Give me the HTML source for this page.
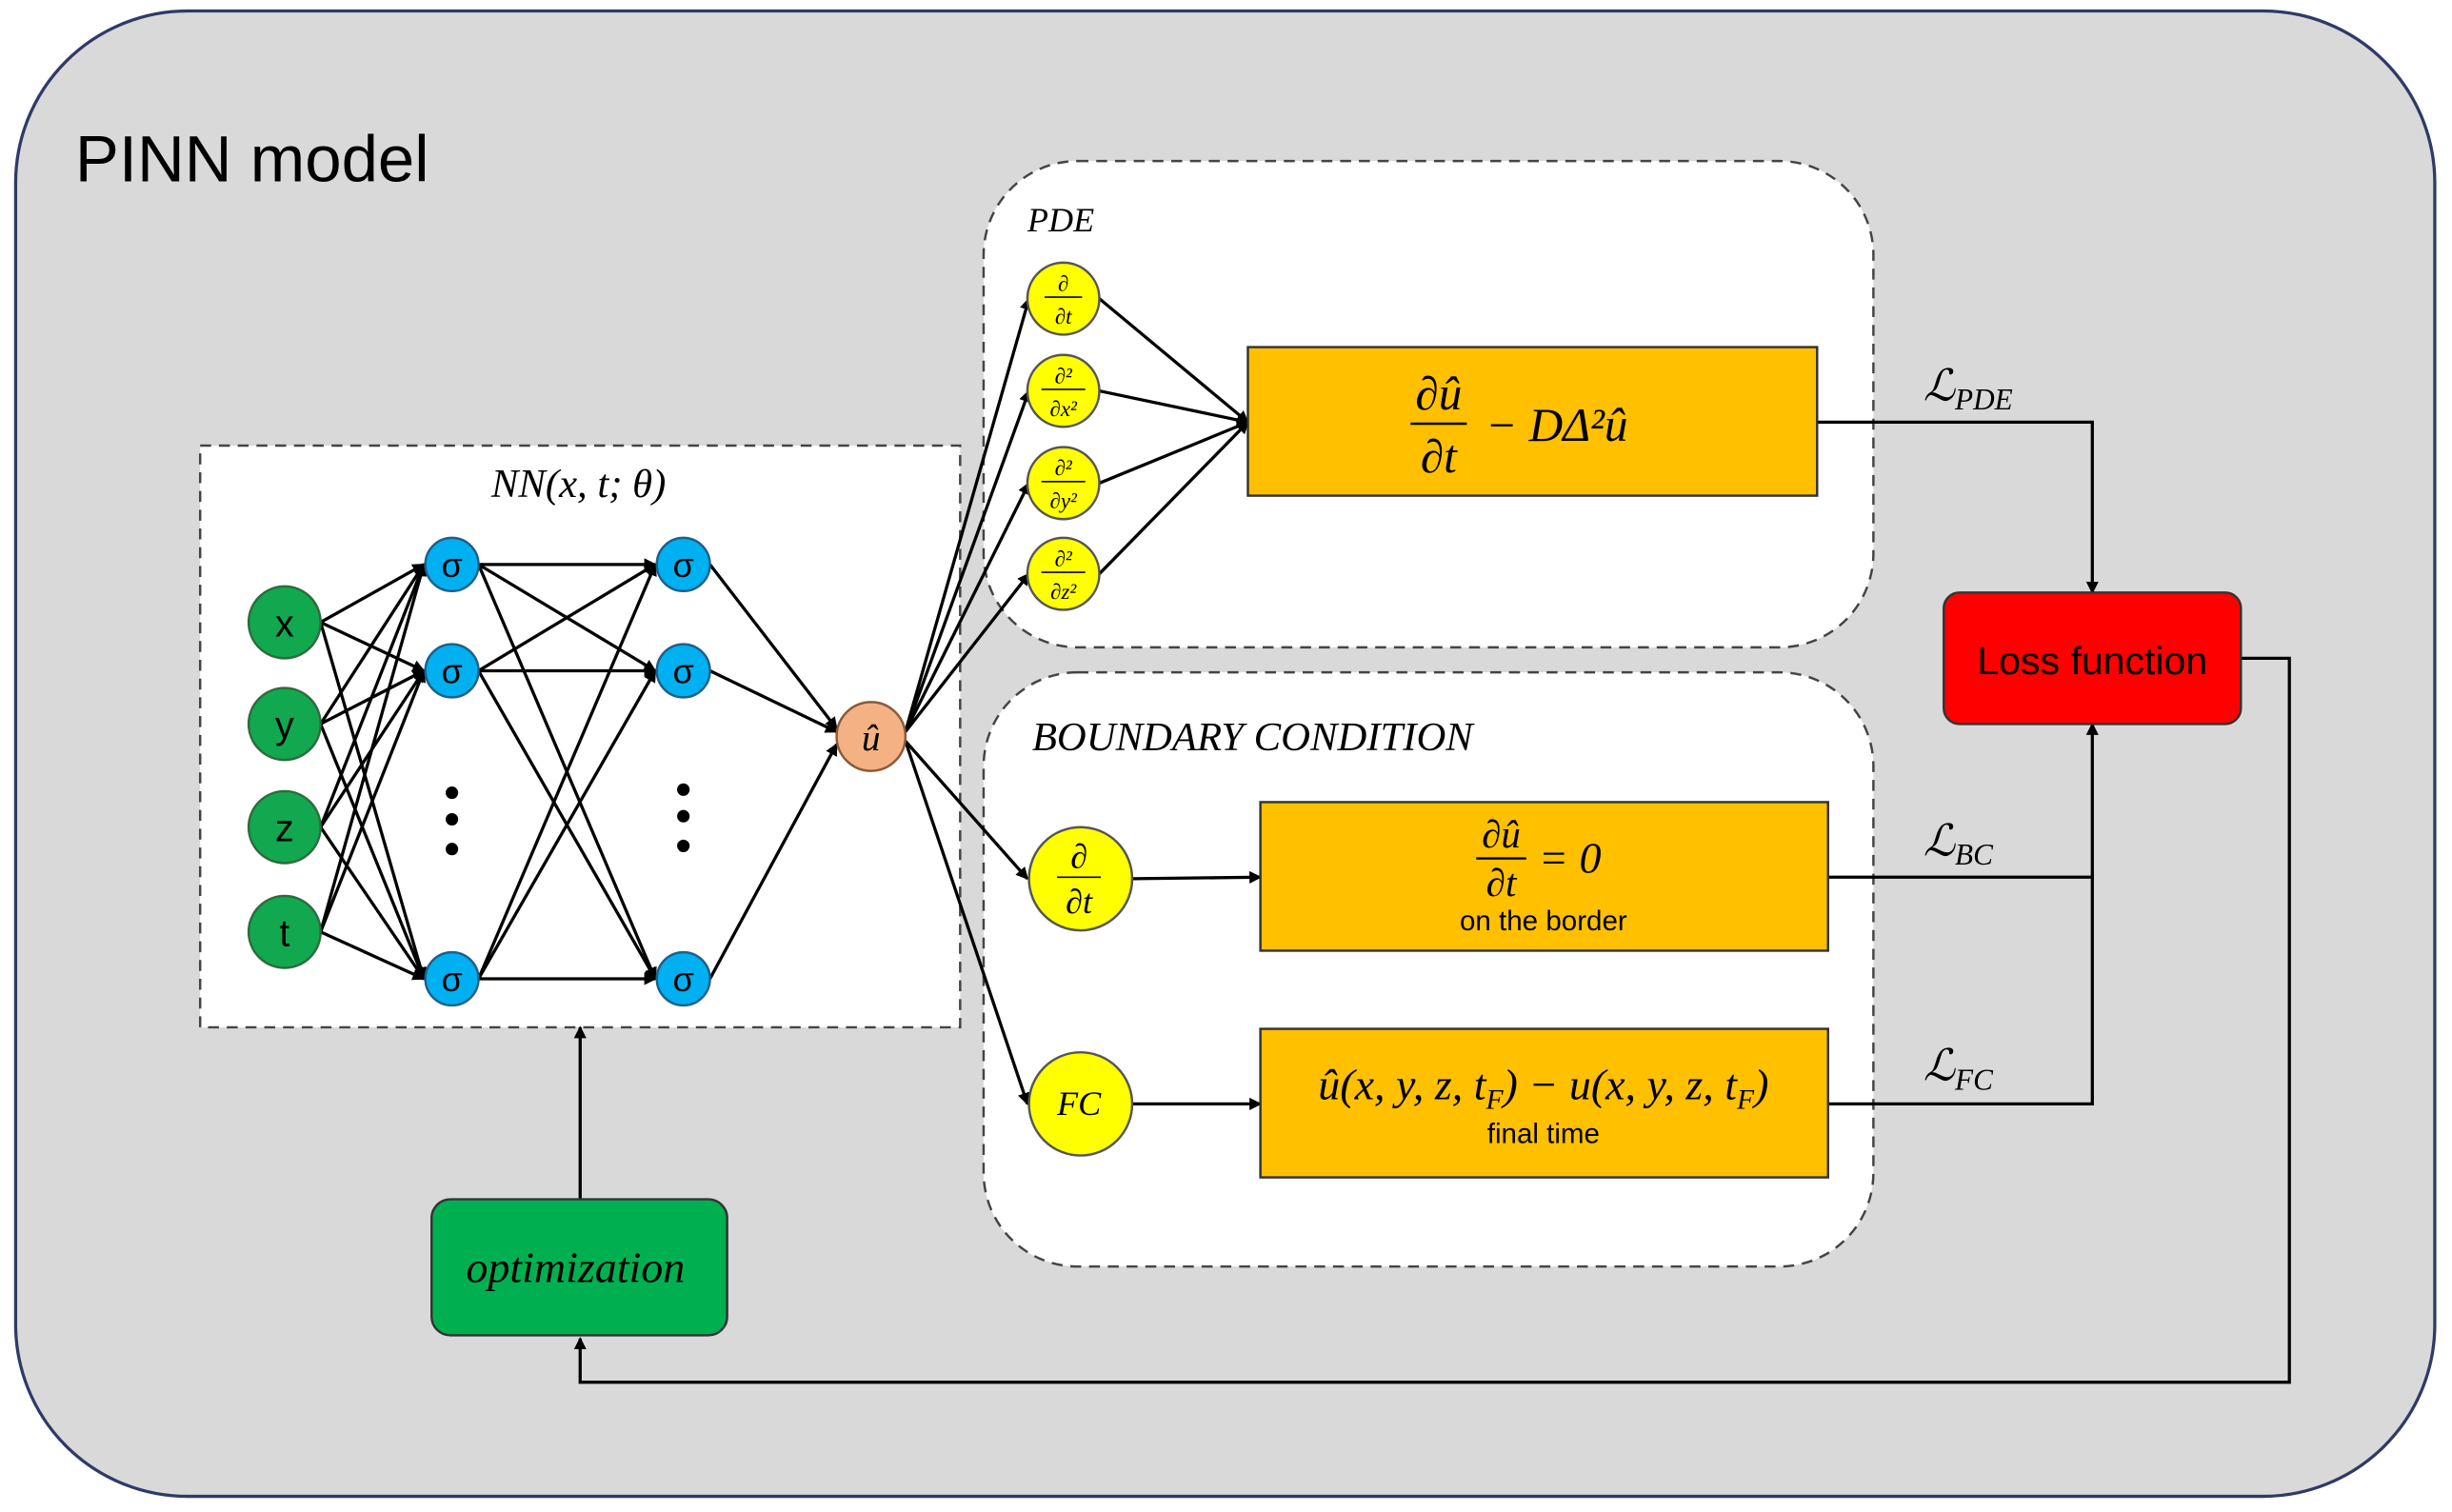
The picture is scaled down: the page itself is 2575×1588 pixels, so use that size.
<!DOCTYPE html>
<html><head><meta charset="utf-8"><style>
html,body{margin:0;padding:0;background:#fff;}
svg{display:block;}
text{font-family:"Liberation Sans",sans-serif;}
.m, .m text, text.m{font-family:"Liberation Serif","DejaVu Serif",serif;font-style:italic;}
</style></head><body>
<svg width="2575" height="1588" viewBox="0 0 1568 967" preserveAspectRatio="none" xmlns="http://www.w3.org/2000/svg">
<defs>
<marker id="a" markerWidth="8" markerHeight="8" refX="7" refY="4" orient="auto" markerUnits="userSpaceOnUse"><path d="M0,0 L8,4 L0,8 z" fill="#000"/></marker>
</defs>
<rect x="10" y="7" width="1547" height="950" rx="110" fill="#d9d9d9" stroke="#2f3a66" stroke-width="2"/>
<text x="48" y="116" font-size="42">PINN model</text>

<rect x="128" y="285" width="486" height="372" fill="#fff" stroke="#444" stroke-width="1.5" stroke-dasharray="7,5"/>
<text x="370" y="318" font-size="26" text-anchor="middle" class="m">NN(x, t; θ)</text>

<rect x="629" y="103" width="569" height="311" rx="60" fill="#fff" stroke="#444" stroke-width="1.5" stroke-dasharray="7,5"/>
<text x="657" y="148" font-size="22" class="m">PDE</text>
<rect x="629" y="430" width="569" height="380" rx="60" fill="#fff" stroke="#444" stroke-width="1.5" stroke-dasharray="7,5"/>
<text x="660" y="480" font-size="26" class="m">BOUNDARY CONDITION</text>

<g stroke="#000" stroke-width="2" fill="none" marker-end="url(#a)">
<path d="M205,398 L271,361"/><path d="M205,398 L271,429"/><path d="M205,398 L271,626"/>
<path d="M205,463 L271,361"/><path d="M205,463 L271,429"/><path d="M205,463 L271,626"/>
<path d="M205,529 L271,361"/><path d="M205,529 L271,429"/><path d="M205,529 L271,626"/>
<path d="M205,596 L271,361"/><path d="M205,596 L271,429"/><path d="M205,596 L271,626"/>
<path d="M306,361 L419,361"/><path d="M306,361 L419,429"/><path d="M306,361 L419,626"/>
<path d="M306,429 L419,361"/><path d="M306,429 L419,429"/><path d="M306,429 L419,626"/>
<path d="M306,626 L419,361"/><path d="M306,626 L419,429"/><path d="M306,626 L419,626"/>
<path d="M454,361 L535,466"/><path d="M454,429 L535,468"/><path d="M454,626 L535,476"/>
<path d="M579,468 L658,191"/><path d="M579,468 L658,250"/><path d="M579,468 L658,309"/><path d="M579,468 L658,367"/>
<path d="M579,474 L657,562"/><path d="M579,474 L657,706"/>
<path d="M703,191 L798,270"/><path d="M703,250 L798,270"/><path d="M703,309 L798,270"/><path d="M703,367 L798,270"/>
<path d="M724,562 L806,561"/><path d="M724,706 L806,706"/>
<path d="M1162,270 L1338,270 L1338,379"/>
<path d="M1169,561 L1338,561 L1338,463"/>
<path d="M1433,421 L1464,421 L1464,884 L371,884 L371,856"/>
<path d="M371,767 L371,657"/>
</g>
<path d="M1169,706 L1338,706 L1338,561" stroke="#000" stroke-width="2" fill="none"/>

<g fill="#11a84f" stroke="#2d6b3c" stroke-width="1.5">
<circle cx="182" cy="398" r="23"/><circle cx="182" cy="463" r="23"/><circle cx="182" cy="529" r="23"/><circle cx="182" cy="596" r="23"/>
</g>
<g font-size="24" text-anchor="middle" fill="#000">
<text x="182" y="407">x</text><text x="182" y="472">y</text><text x="182" y="538">z</text><text x="182" y="605">t</text>
</g>
<g fill="#00b0f0" stroke="#1f5f8a" stroke-width="1.5">
<circle cx="289" cy="361" r="17"/><circle cx="289" cy="429" r="17"/><circle cx="289" cy="626" r="17"/>
<circle cx="437" cy="361" r="17"/><circle cx="437" cy="429" r="17"/><circle cx="437" cy="626" r="17"/>
</g>
<g font-size="22" text-anchor="middle" fill="#000">
<text x="289" y="369">σ</text><text x="289" y="437">σ</text><text x="289" y="634">σ</text>
<text x="437" y="369">σ</text><text x="437" y="437">σ</text><text x="437" y="634">σ</text>
</g>
<g fill="#000"><circle cx="289" cy="507" r="4"/><circle cx="289" cy="524" r="4"/><circle cx="289" cy="543" r="4"/>
<circle cx="437" cy="505" r="4"/><circle cx="437" cy="522" r="4"/><circle cx="437" cy="541" r="4"/></g>
<circle cx="557" cy="471" r="22" fill="#f4b183" stroke="#8a5a3a" stroke-width="1.5"/>
<text x="557" y="480" font-size="24" text-anchor="middle" class="m">û</text>

<g fill="#ffff00" stroke="#555" stroke-width="1.5">
<circle cx="680" cy="191" r="23"/><circle cx="680" cy="250" r="23"/><circle cx="680" cy="309" r="23"/><circle cx="680" cy="367" r="23"/>
<circle cx="691" cy="562" r="33"/><circle cx="691" cy="706" r="33"/>
</g>
<g font-size="14" text-anchor="middle" class="m">
<text x="680" y="186">∂</text><line x1="668" y1="190" x2="692" y2="190" stroke="#000"/><text x="680" y="207">∂t</text>
<text x="680" y="245">∂²</text><line x1="666" y1="249" x2="694" y2="249" stroke="#000"/><text x="680" y="266">∂x²</text>
<text x="680" y="304">∂²</text><line x1="666" y1="308" x2="694" y2="308" stroke="#000"/><text x="680" y="325">∂y²</text>
<text x="680" y="362">∂²</text><line x1="666" y1="366" x2="694" y2="366" stroke="#000"/><text x="680" y="383">∂z²</text>
</g>
<g font-size="22" text-anchor="middle" class="m">
<text x="690" y="555">∂</text><line x1="676" y1="561" x2="704" y2="561" stroke="#000"/><text x="690" y="584">∂t</text>
<text x="690" y="713">FC</text>
</g>

<g fill="#ffc000" stroke="#333" stroke-width="1.5">
<rect x="798" y="222" width="364" height="95"/>
<rect x="806" y="513" width="363" height="95"/>
<rect x="806" y="658" width="363" height="95"/>
</g>
<g class="m" font-size="30">
<text x="920" y="262" text-anchor="middle">∂û</text><line x1="902" y1="271" x2="938" y2="271" stroke="#000" stroke-width="1.5"/><text x="920" y="302" text-anchor="middle">∂t</text>
<text x="950" y="282">− DΔ²û</text>
<text x="960" y="542" text-anchor="middle" font-size="25">∂û</text><line x1="944" y1="549" x2="976" y2="549" stroke="#000" stroke-width="1.5"/><text x="960" y="573" text-anchor="middle" font-size="25">∂t</text>
<text x="984" y="558" font-size="28">= 0</text>
<text x="987" y="703" text-anchor="middle" font-size="28">û(x, y, z, t<tspan font-size="18" dy="6">F</tspan><tspan dy="-6">) − u(x, y, z, t</tspan><tspan font-size="18" dy="6">F</tspan><tspan dy="-6">)</tspan></text>
</g>
<text x="987" y="595" font-size="18" text-anchor="middle">on the border</text>
<text x="987" y="731" font-size="18" text-anchor="middle">final time</text>

<g class="m" font-size="28">
<text x="1230" y="256">ℒ<tspan font-size="19" dy="6">PDE</tspan></text>
<text x="1230" y="547">ℒ<tspan font-size="19" dy="6">BC</tspan></text>
<text x="1230" y="691">ℒ<tspan font-size="19" dy="6">FC</tspan></text>
</g>

<rect x="1243" y="379" width="190" height="84" rx="10" fill="#ff0000" stroke="#333" stroke-width="1.5"/>
<text x="1338" y="431" font-size="25" text-anchor="middle">Loss function</text>
<rect x="276" y="767" width="189" height="87" rx="12" fill="#00b050" stroke="#333" stroke-width="1.5"/>
<text x="368" y="820" font-size="28" text-anchor="middle" class="m">optimization</text>
</svg>
</body></html>
